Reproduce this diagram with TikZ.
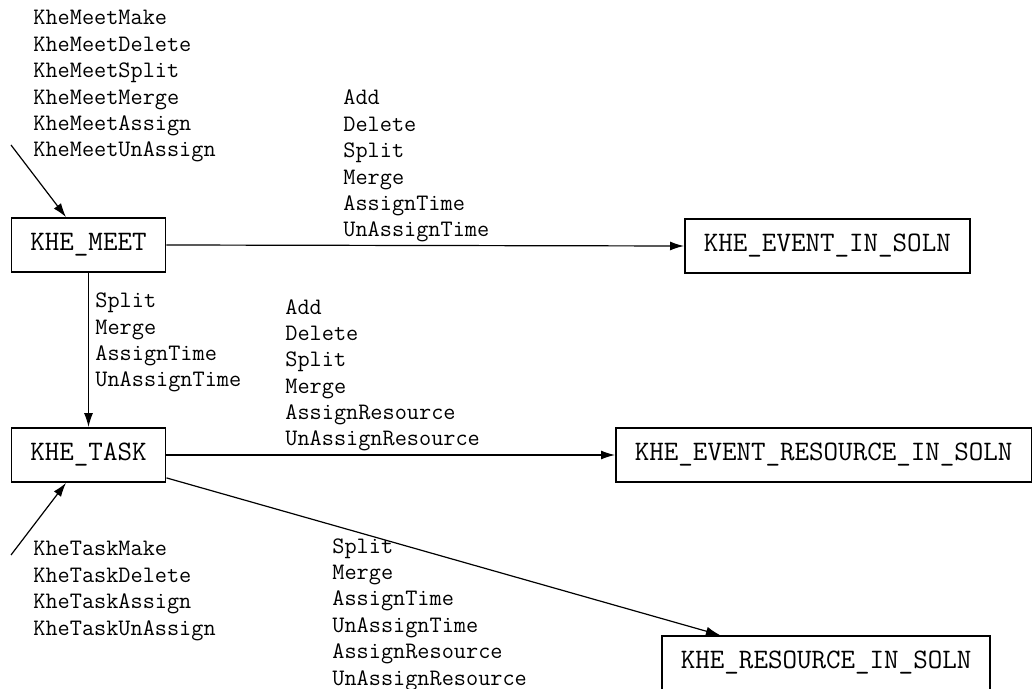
\documentclass[tikz,border=0pt]{standalone}
\usepackage{fontspec}
\usepackage{tikz}
\usetikzlibrary{positioning, arrows.meta}
\tikzset{
    block/.style={
        draw, line width = 0.9pt,
        minimum height = 27pt,
        inner xsep = 9.5pt,
        font = \fontsize{14.1}{16}\selectfont\ttfamily
    },
    ops/.style = {
        anchor = base west, inner sep = 0pt,
        align = left,
        font = \fontsize{11.8}{13.2}\selectfont\ttfamily
    },
    line/.style = {-{Latex[length=7pt,width=4.5pt]}, line width = 0.6pt}
}
\begin{document}
\begin{tikzpicture}[x=0.5pt, y=-0.5pt]

    \useasboundingbox (0,0) rectangle (1034,689);

    % Objects
    \node[block] (meet) at (88.5,245) {KHE\_MEET};
    \node[block, anchor = west] (eventinsoln) at (684,246) {KHE\_EVENT\_IN\_SOLN};
    \node[block] (task) at (88.5,455) {KHE\_TASK};
    \node[block, anchor = west] (eris) at (615,455) {KHE\_EVENT\_RESOURCE\_IN\_SOLN};
    \node[block, anchor = west] (ris) at (661,663) {KHE\_RESOURCE\_IN\_SOLN};

    % Free ends
    \coordinate (meetin) at (11,145);
    \coordinate (taskin) at (11,555);

    % Arrows
    \draw[line] (meetin) -- ([xshift=-11.25pt]meet.north);
    \draw[line] (meet.east) -- (eventinsoln.west);
    \draw[line] (meet.south) -- (task.north);
    \draw[line] (task.east) -- (eris.west);
    \draw[line] ([yshift=2.5pt]task.south east) -- ([xshift=29.5pt]ris.north west);
    \draw[line] (taskin) -- ([xshift=-11.25pt]task.south);

    % Labels (placed at the baseline of their last line)
    \node[ops] (meetops) at (33,157) {KheMeetMake\\KheMeetDelete\\KheMeetSplit\\KheMeetMerge\\KheMeetAssign\\KheMeetUnAssign};
    \node[ops] (eventops) at (343,237) {Add\\Delete\\Split\\Merge\\AssignTime\\UnAssignTime};
    \node[ops] (taskops) at (95,387) {Split\\Merge\\AssignTime\\UnAssignTime};
    \node[ops] (erisops) at (285,446) {Add\\Delete\\Split\\Merge\\AssignResource\\UnAssignResource};
    \node[ops] (taskmakeops) at (33,635) {KheTaskMake\\KheTaskDelete\\KheTaskAssign\\KheTaskUnAssign};
    \node[ops] (risops) at (332,685) {Split\\Merge\\AssignTime\\UnAssignTime\\AssignResource\\UnAssignResource};

\end{tikzpicture}
\end{document}
